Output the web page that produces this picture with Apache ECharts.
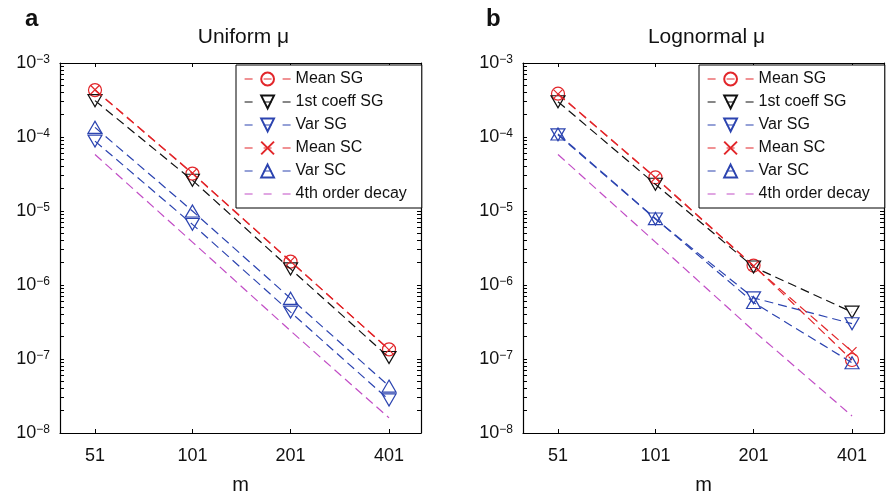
<!DOCTYPE html>
<html><head><meta charset="utf-8">
<script src="https://cdn.jsdelivr.net/npm/echarts@6/dist/echarts.min.js"></script>
<style>html,body{margin:0;padding:0;background:#fff}#c{width:889px;height:500px}</style>
</head><body><div id="c"></div>
<script>
// ---- data ----
const mValues = [51, 101, 201, 401];
const yMajorTicks = [1e-8, 1e-7, 1e-6, 1e-5, 1e-4, 1e-3];
const panelTitles = ['Uniform μ', 'Lognormal μ'];
const panelLetters = ['a', 'b'];
const seriesNames = ['Mean SG', '1st coeff SG', 'Var SG', 'Mean SC', 'Var SC', '4th order decay'];
const xAxisName = 'm';

// Panel a: Uniform
const uniformMeanSG       = [4.3e-4, 3.2e-5, 2.07e-6, 1.35e-7];
const uniformFirstCoeffSG = [3.1e-4, 2.6e-5, 1.65e-6, 1.05e-7];
const uniformVarSG        = [8.8e-5, 6.6e-6, 4.3e-7, 2.8e-8];
const uniformMeanSC       = [4.35e-4, 3.25e-5, 2.1e-6, 1.33e-7];
const uniformVarSC        = [1.35e-4, 1.0e-5, 6.6e-7, 4.3e-8];
const uniformDecay        = [5.8e-5, 3.8e-6, 2.4e-7, 1.6e-8];

// Panel b: Lognormal
const lognormalMeanSG       = [3.85e-4, 2.85e-5, 1.83e-6, 9.7e-8];
const lognormalFirstCoeffSG = [3.0e-4, 2.3e-5, 1.75e-6, 4.3e-7];
const lognormalVarSG        = [1.07e-4, 7.8e-6, 6.7e-7, 3.0e-7];
const lognormalMeanSC       = [3.8e-4, 2.8e-5, 1.8e-6, 1.26e-7];
const lognormalVarSC        = [1.1e-4, 7.9e-6, 5.8e-7, 8.9e-8];
const lognormalDecay        = [5.8e-5, 3.8e-6, 2.4e-7, 1.7e-8];

const panels = [
  [uniformMeanSG, uniformFirstCoeffSG, uniformVarSG, uniformMeanSC, uniformVarSC, uniformDecay],
  [lognormalMeanSG, lognormalFirstCoeffSG, lognormalVarSG, lognormalMeanSC, lognormalVarSC, lognormalDecay]
];

// ---- styling ----
const RED = '#e2262a', BLACK = '#111111', BLUE = '#2c44b0', MAGENTA = '#c24ec6';
const FONT = 'Liberation Sans, Arial, Helvetica, sans-serif';
const DASH = [9, 5];
const styles = [
  {color: RED,     symbol: 'circle',   size: 13,       rotate: 0},
  {color: BLACK,   symbol: 'triangle', size: [14, 12], rotate: 180},
  {color: BLUE,    symbol: 'triangle', size: [14, 12], rotate: 180},
  {color: RED,     symbol: 'path://M0,0L10,10M10,0L0,10', size: 9, rotate: 0},
  {color: BLUE,    symbol: 'triangle', size: [14, 12], rotate: 0},
  {color: MAGENTA, symbol: 'none',     size: 0,        rotate: 0}
];

const yMinorTicks = [];
yMajorTicks.forEach((d, i) => {
  yMinorTicks.push(d);
  if (i < yMajorTicks.length - 1) for (let k = 2; k <= 9; k++) yMinorTicks.push(d * k);
});

const gridLefts = [60, 523];
const gridTop = 63, gridW = 361, gridH = 372;
const xMin = 39.9, xMax = 501.8;

const grid = [], xAxis = [], yAxis = [], series = [], title = [], legend = [];
const axisLineStyle = {show: true, lineStyle: {color: '#000', width: 1.2}};

panels.forEach((panel, p) => {
  grid.push({left: gridLefts[p], top: gridTop, width: gridW, height: gridH});
  xAxis.push({
    gridIndex: p, type: 'log', logBase: 2, min: xMin, max: xMax, position: 'bottom',
    axisLine: axisLineStyle,
    axisTick: {show: true, inside: true, length: 4, customValues: mValues, lineStyle: {color: '#000'}},
    axisLabel: {show: true, customValues: mValues, margin: 14, fontSize: 18, color: '#111', fontFamily: FONT,
      formatter: v => String(Math.round(v))},
    splitLine: {show: false}, minorTick: {show: false},
    name: xAxisName, nameLocation: 'middle', nameGap: 42,
    nameTextStyle: {fontSize: 20, color: '#111', fontFamily: FONT}
  });
  xAxis.push({
    gridIndex: p, type: 'log', logBase: 2, min: xMin, max: xMax, position: 'top',
    axisLine: axisLineStyle,
    axisTick: {show: true, inside: true, length: 4, customValues: mValues, lineStyle: {color: '#000'}},
    axisLabel: {show: false}, splitLine: {show: false}
  });
  yAxis.push({
    gridIndex: p, type: 'log', logBase: 10, min: 1e-8, max: 1e-3, position: 'left',
    axisLine: axisLineStyle,
    axisTick: {show: true, inside: true, length: 4, customValues: yMinorTicks, lineStyle: {color: '#000'}},
    axisLabel: {show: true, customValues: yMajorTicks, margin: 10, fontFamily: FONT,
      formatter: v => '{b|10}{s|−' + Math.abs(Math.round(Math.log10(v))) + '}',
      rich: {
        b: {fontSize: 18, color: '#111', fontFamily: FONT, lineHeight: 18, verticalAlign: 'bottom'},
        s: {fontSize: 12, color: '#111', fontFamily: FONT, lineHeight: 18, verticalAlign: 'top', padding: [0, 0, 10, 0]}
      }},
    splitLine: {show: false}
  });
  yAxis.push({
    gridIndex: p, type: 'log', logBase: 10, min: 1e-8, max: 1e-3, position: 'right',
    axisLine: axisLineStyle,
    axisTick: {show: true, inside: true, length: 4, customValues: yMinorTicks, lineStyle: {color: '#000'}},
    axisLabel: {show: false}, splitLine: {show: false}
  });

  panel.forEach((values, s) => {
    const st = styles[s];
    const isNone = st.symbol === 'none';
    series.push({
      type: 'line', name: seriesNames[s],
      xAxisIndex: p * 2, yAxisIndex: p * 2,
      data: mValues.map((m, i) => [m, values[i]]),
      symbol: isNone ? 'circle' : st.symbol,
      showSymbol: !isNone,
      symbolSize: isNone ? 0 : st.size,
      symbolRotate: st.rotate,
      itemStyle: {color: 'rgba(0,0,0,0)', borderColor: isNone ? 'rgba(0,0,0,0)' : st.color, borderWidth: isNone ? 0 : 1.2},
      lineStyle: {color: st.color, width: 1.2, type: DASH},
      emphasis: {disabled: true}, silent: true, z: 2 + s
    });
  });

  title.push({
    text: panelTitles[p], left: gridLefts[p] + gridW / 2 - 2, top: 22, textAlign: 'center',
    textStyle: {fontSize: 21, fontWeight: 'normal', color: '#111', fontFamily: FONT}
  });
  title.push({
    text: panelLetters[p], left: p === 0 ? 20 : 481, top: 2,
    textStyle: {fontSize: 24, fontWeight: 'bold', color: '#111', fontFamily: FONT}
  });
  legend.push({
    data: seriesNames, orient: 'vertical', left: p === 0 ? 236 : 699, top: 65,
    itemWidth: 46, itemHeight: 16, itemGap: 7, padding: [6, 15, 6, 8],
    borderColor: '#000', borderWidth: 1, backgroundColor: '#fff', borderRadius: 0,
    selectedMode: false,
    lineStyle: {type: [8, 11], width: 1.2},
    textStyle: {fontSize: 16, color: '#111', fontFamily: FONT}
  });
});

const chart = echarts.init(document.getElementById('c'), null, {renderer: 'canvas'});
chart.setOption({animation: false, backgroundColor: '#fff', title, legend, grid, xAxis, yAxis, series});
</script></body></html>
